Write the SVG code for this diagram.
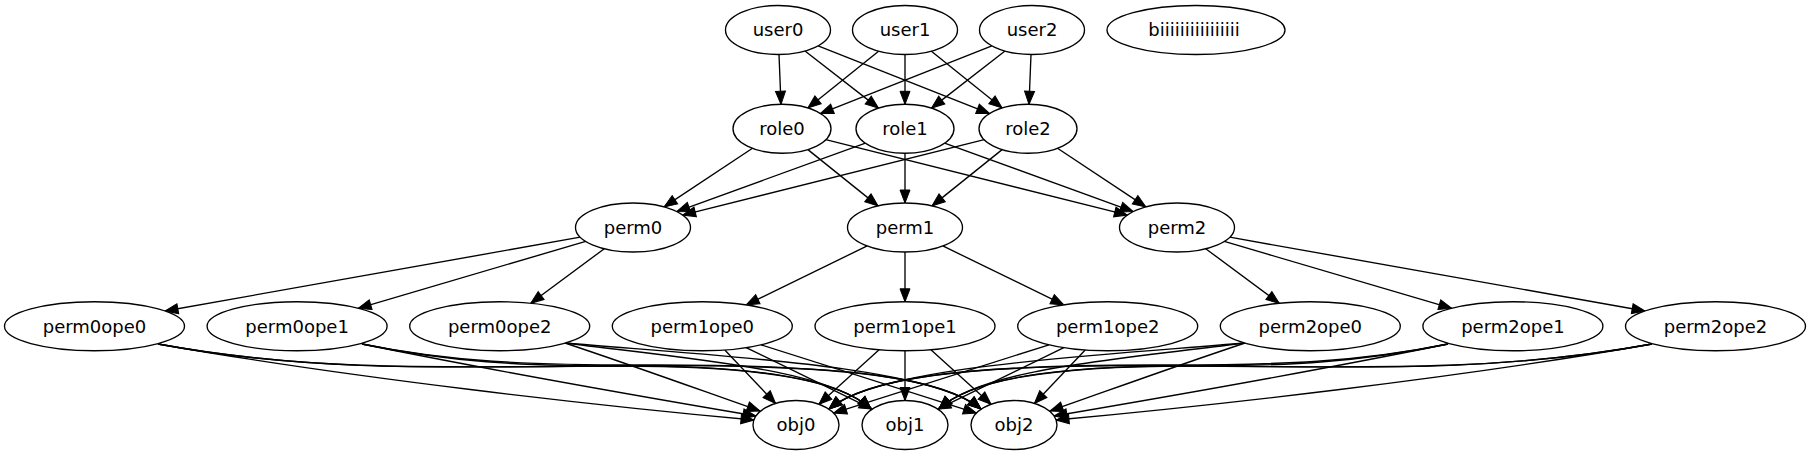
<svg xmlns="http://www.w3.org/2000/svg" width="1811" height="456" viewBox="0 0 1811 456">
<style>
.node ellipse{fill:#fff;stroke:#000;stroke-width:1.35}
.node text{font-family:"DejaVu Sans",sans-serif;font-size:18px;text-anchor:middle;fill:#000}
.edge{fill:none;stroke:#000;stroke-width:1.35;marker-end:url(#ah)}
</style>
<defs>
<marker id="ah" markerUnits="userSpaceOnUse" markerWidth="14" markerHeight="10" refX="13" refY="5" orient="auto" overflow="visible">
<path d="M0,0 L13,5 L0,10 z" fill="#000" stroke="#000" stroke-width="1"/>
</marker>
</defs>
<rect width="1811" height="456" fill="#fff"/>
<g id="edges">
<path class="edge" d="M779,54.5 L781,104.3"/>
<path class="edge" d="M805,51 L878.5,108.1"/>
<path class="edge" d="M818.1,45.8 L989.6,113.6"/>
<path class="edge" d="M878.6,51.2 L807.9,108"/>
<path class="edge" d="M905,54.5 L905,104.3"/>
<path class="edge" d="M931.4,51.2 L1002.1,108"/>
<path class="edge" d="M991.9,45.8 L820.4,113.6"/>
<path class="edge" d="M1005,51 L931.5,108.1"/>
<path class="edge" d="M1031,54.5 L1029,104.3"/>
<path class="edge" d="M752.5,148.3 L664.1,206.9"/>
<path class="edge" d="M807.9,149.6 L878,205.9"/>
<path class="edge" d="M825.8,139.7 L1127.4,215.1"/>
<path class="edge" d="M865.4,143.1 L676.8,211.6"/>
<path class="edge" d="M905,153.3 L905,203"/>
<path class="edge" d="M944.6,143.1 L1133.2,211.6"/>
<path class="edge" d="M984.2,139.7 L682.6,215.1"/>
<path class="edge" d="M1002.1,149.6 L932,205.9"/>
<path class="edge" d="M1057.5,148.3 L1145.9,206.9"/>
<path class="edge" d="M580.2,237.2 L165,311"/>
<path class="edge" d="M585.7,241.4 L358.2,308.3"/>
<path class="edge" d="M604.3,248.7 L530.7,303.3"/>
<path class="edge" d="M867.2,245.9 L746.2,304.9"/>
<path class="edge" d="M905,252 L905,301.8"/>
<path class="edge" d="M942.8,245.9 L1063.8,304.9"/>
<path class="edge" d="M1205.7,248.7 L1279.3,303.3"/>
<path class="edge" d="M1224.3,241.4 L1451.8,308.3"/>
<path class="edge" d="M1229.8,237.2 L1645,311"/>
<path class="edge" d="M158,344 C350,378 600,406 754,420"/>
<path class="edge" d="M362,344 C480,368 650,398 756,416"/>
<path class="edge" d="M565,343 C640,368 700,390 760,411"/>
<path class="edge" d="M158,344 C300,370 420,368 600,366 C760,364 840,380 871,409"/>
<path class="edge" d="M158,344 C300,370 420,368 620,366 C860,363 945,380 981,409"/>
<path class="edge" d="M362,344 C450,362 520,366 620,366 C770,366 842,382 871,409"/>
<path class="edge" d="M362,344 C450,362 530,365 640,365 C870,364 948,382 981,409"/>
<path class="edge" d="M565,343 C700,360 830,370 871,409"/>
<path class="edge" d="M565,343 C720,356 930,366 981,409"/>
<path class="edge" d="M724.8,350 L775.6,403.5"/>
<path class="edge" d="M746.2,347.6 L872.3,409.1"/>
<path class="edge" d="M761,344.8 L976.4,413.1"/>
<path class="edge" d="M879.1,349.7 L818.9,404.3"/>
<path class="edge" d="M905,350.8 L905,400.5"/>
<path class="edge" d="M930.9,349.7 L991.1,404.3"/>
<path class="edge" d="M1049,344.8 L833.6,413.1"/>
<path class="edge" d="M1063.8,347.6 L937.7,409.1"/>
<path class="edge" d="M1085.2,350 L1034.4,403.5"/>
<path class="edge" d="M1652,344 C1460,378 1210,406 1056,420"/>
<path class="edge" d="M1448,344 C1330,368 1160,398 1054,416"/>
<path class="edge" d="M1245,343 C1170,368 1110,390 1050,411"/>
<path class="edge" d="M1652,344 C1510,370 1390,368 1210,366 C1050,364 970,380 939,409"/>
<path class="edge" d="M1652,344 C1510,370 1390,368 1190,366 C950,363 865,380 829,409"/>
<path class="edge" d="M1448,344 C1360,362 1290,366 1190,366 C1040,366 968,382 939,409"/>
<path class="edge" d="M1448,344 C1360,362 1280,365 1170,365 C940,364 862,382 829,409"/>
<path class="edge" d="M1245,343 C1110,360 980,370 939,409"/>
<path class="edge" d="M1245,343 C1090,356 880,366 829,409"/>
</g>
<g id="user0" class="node"><ellipse cx="778" cy="30" rx="52.5" ry="24.5"/><text x="778" y="36.3">user0</text></g>
<g id="user1" class="node"><ellipse cx="905" cy="30" rx="52.5" ry="24.5"/><text x="905" y="36.3">user1</text></g>
<g id="user2" class="node"><ellipse cx="1032" cy="30" rx="52.5" ry="24.5"/><text x="1032" y="36.3">user2</text></g>
<g id="biii" class="node"><ellipse cx="1196" cy="30" rx="89" ry="24.5"/><text x="1194" y="36.3">biiiiiiiiiiiiiiii</text></g>
<g id="role0" class="node"><ellipse cx="782" cy="128.75" rx="49" ry="24.5"/><text x="782" y="135">role0</text></g>
<g id="role1" class="node"><ellipse cx="905" cy="128.75" rx="49" ry="24.5"/><text x="905" y="135">role1</text></g>
<g id="role2" class="node"><ellipse cx="1028" cy="128.75" rx="49" ry="24.5"/><text x="1028" y="135">role2</text></g>
<g id="perm0" class="node"><ellipse cx="633" cy="227.5" rx="57.5" ry="24.5"/><text x="633" y="233.8">perm0</text></g>
<g id="perm1" class="node"><ellipse cx="905" cy="227.5" rx="57.5" ry="24.5"/><text x="905" y="233.8">perm1</text></g>
<g id="perm2" class="node"><ellipse cx="1177" cy="227.5" rx="57.5" ry="24.5"/><text x="1177" y="233.8">perm2</text></g>
<g id="perm0ope0" class="node"><ellipse cx="94.5" cy="326.25" rx="90" ry="24.5"/><text x="94.5" y="332.5">perm0ope0</text></g>
<g id="perm0ope1" class="node"><ellipse cx="297.1" cy="326.25" rx="90" ry="24.5"/><text x="297.1" y="332.5">perm0ope1</text></g>
<g id="perm0ope2" class="node"><ellipse cx="499.7" cy="326.25" rx="90" ry="24.5"/><text x="499.7" y="332.5">perm0ope2</text></g>
<g id="perm1ope0" class="node"><ellipse cx="702.3" cy="326.25" rx="90" ry="24.5"/><text x="702.3" y="332.5">perm1ope0</text></g>
<g id="perm1ope1" class="node"><ellipse cx="905" cy="326.25" rx="90" ry="24.5"/><text x="905" y="332.5">perm1ope1</text></g>
<g id="perm1ope2" class="node"><ellipse cx="1107.7" cy="326.25" rx="90" ry="24.5"/><text x="1107.7" y="332.5">perm1ope2</text></g>
<g id="perm2ope0" class="node"><ellipse cx="1310.3" cy="326.25" rx="90" ry="24.5"/><text x="1310.3" y="332.5">perm2ope0</text></g>
<g id="perm2ope1" class="node"><ellipse cx="1512.9" cy="326.25" rx="90" ry="24.5"/><text x="1512.9" y="332.5">perm2ope1</text></g>
<g id="perm2ope2" class="node"><ellipse cx="1715.5" cy="326.25" rx="90" ry="24.5"/><text x="1715.5" y="332.5">perm2ope2</text></g>
<g id="obj0" class="node"><ellipse cx="796" cy="425" rx="43" ry="24.5"/><text x="796" y="431.3">obj0</text></g>
<g id="obj1" class="node"><ellipse cx="905" cy="425" rx="43" ry="24.5"/><text x="905" y="431.3">obj1</text></g>
<g id="obj2" class="node"><ellipse cx="1014" cy="425" rx="43" ry="24.5"/><text x="1014" y="431.3">obj2</text></g>
</svg>
